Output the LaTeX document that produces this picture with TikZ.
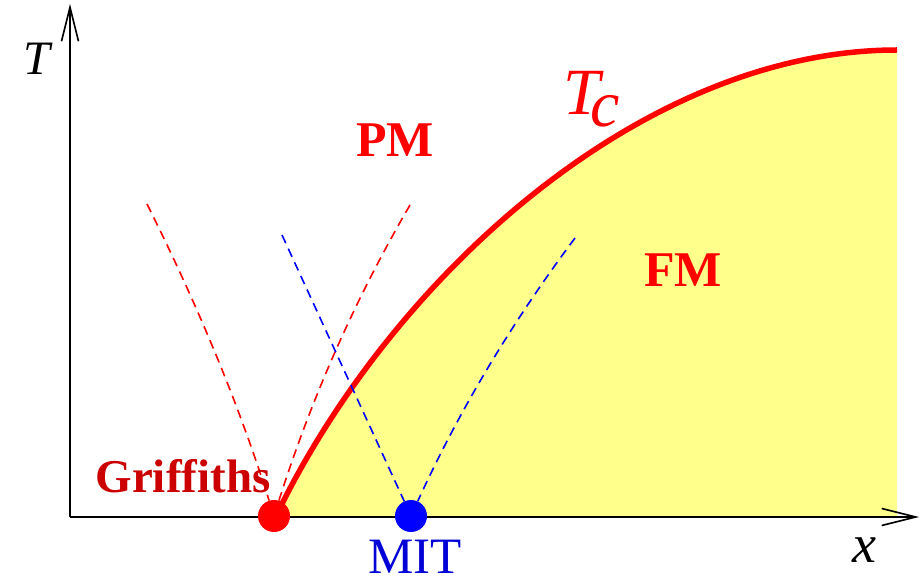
\documentclass[tikz,border=0pt]{standalone}
\usepackage{fontspec}
\setmainfont{Liberation Serif}
\usepackage{xcolor}
\usetikzlibrary{arrows.meta}

\definecolor{fmyellow}{RGB}{255,255,140}
\definecolor{griffred}{RGB}{204,0,0}
\definecolor{mitblue}{RGB}{0,0,215}

\begin{document}
\begin{tikzpicture}[x=1pt, y=-1pt,
    axis/.style={line width=1.6pt, -{Straight Barb[length=34pt, width=17pt, line width=1.6pt]}},
    crossover/.style={dash pattern=on 9pt off 6pt, line width=1.6pt},
    dot/.style={circle, fill, inner sep=0pt, minimum size=32pt},
    phase/.style={font=\bfseries\fontsize{50}{60}\selectfont, text=red, anchor=base}]

    \useasboundingbox (0,0) rectangle (922,580);

    \coordinate (o) at (70,517);
    \coordinate (ttop) at (70,4);
    \coordinate (xend) at (919,517);
    \coordinate (tcstart) at (276,516);
    \coordinate (tcend) at (897,50);

    % ordered phase under T_c
    \fill[fmyellow] (tcstart) .. controls (390,280) and (640,50) .. (tcend) -- (897,517) -- cycle;

    \draw[axis] (o) -- (ttop);
    \draw[axis] (o) -- (xend);

    \draw[red, line width=5.5pt] (tcstart) .. controls (390,280) and (640,50) .. (tcend);

    \node[dot, red] (griff) at (274,516) {};
    \node[dot, blue] (mit) at (411,516) {};

    % crossover lines
    \coordinate (rl) at (147,204);
    \coordinate (rr) at (410,205);
    \coordinate (bl) at (282,235);
    \coordinate (br) at (575,238);
    \draw[crossover, red] (rl) .. controls (196,302) and (237,399) .. (griff);
    \draw[crossover, red] (rr) .. controls (353,303) and (311,400) .. (griff);
    \draw[crossover, blue] (bl) -- (mit);
    \draw[crossover, blue] (br) .. controls (510,325) and (458,413) .. (mit);

    \node[anchor=base, inner sep=0pt] (tlabel) at (37,75) {\fontsize{48}{50}\selectfont\itshape T};
    \node[anchor=base, inner sep=0pt] (xlabel) at (864,562) {\fontsize{54}{60}\selectfont\itshape x};
    \node[anchor=base west, inner sep=0pt, text=red] (tc) at (563,115)
        {\fontsize{66}{70}\selectfont\itshape T\kern-9pt\raisebox{-12pt}{c}};

    \node[phase] (pm) at (395,157) {PM};
    \node[phase] (fm) at (683,287) {FM};
    \node[phase, text=griffred, font=\bfseries\fontsize{47}{55}\selectfont] (griffiths) at (183,492) {Griffiths};
    \node[anchor=base, inner sep=0pt, text=mitblue] (mitlabel) at (415,573) {\fontsize{51}{60}\selectfont MIT};
\end{tikzpicture}
\end{document}
